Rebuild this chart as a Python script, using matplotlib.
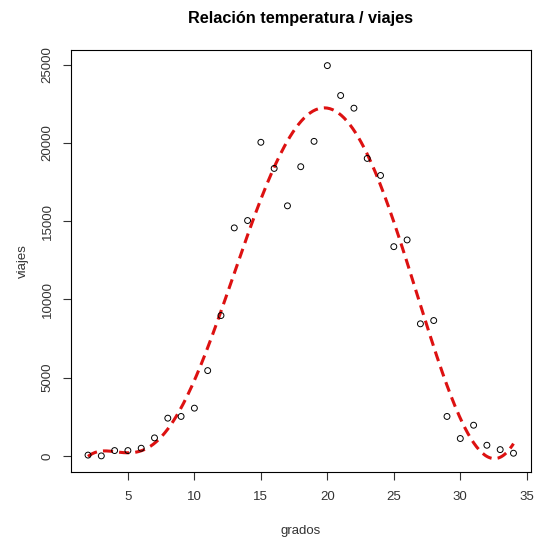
import numpy as np
import matplotlib
matplotlib.use("Agg")
import matplotlib.pyplot as plt

plt.rcParams['font.family'] = ['Liberation Sans', 'DejaVu Sans']

# datos
grados = list(range(2, 35))
viajes = [50, 0, 340, 340, 490, 1150, 2410, 2520, 3050, 5450, 8970,
          14570, 15040, 20040, 18370, 15980, 18480, 20100, 24940, 23030,
          22220, 19010, 17920, 13370, 13800, 8440, 8650, 2520, 1110, 1960,
          680, 400, 170]

x = np.array(grados, dtype=float)
y = np.array(viajes, dtype=float)

# ajuste polinomico de grado 6 (como lm(viajes ~ poly(grados, 6)))
coef = np.polyfit((x - 18) / 16, y, 6)
xs = np.linspace(x.min(), x.max(), 300)
ys = np.polyval(coef, (xs - 18) / 16)

fig = plt.figure(figsize=(5.35, 5.38), dpi=100)
ax = fig.add_axes([71/535, 1 - 471.5/538, 459.5/535, 421.5/538])

ax.scatter(x, y, s=18, facecolors='none', edgecolors='black', linewidths=0.7, zorder=3)
ax.plot(xs, ys, color='#dd1111', lw=2.2, linestyle=(0, (3.3, 2.0)), zorder=2)

ax.set_xlim(0.72, 35.28)
ax.set_ylim(-998, 25938)
ax.set_xticks([5, 10, 15, 20, 25, 30, 35])
ax.set_yticks([0, 5000, 10000, 15000, 20000, 25000])
ax.set_yticklabels(['0', '5000', '10000', '15000', '20000', '25000'], rotation=90, va='center')

for s in ax.spines.values():
    s.set_linewidth(0.8)
ax.tick_params(length=6, width=0.8, labelsize=9.5, colors='#333333', labelcolor='#333333', pad=8)
ax.tick_params(axis='y', pad=6.5)

ax.set_xlabel('grados', fontsize=9.5, color='#333333', labelpad=16)
ax.set_ylabel('viajes', fontsize=9.5, color='#333333', labelpad=9)
fig.text(300.5/535, 1 - 18/538, 'Relación temperatura / viajes', ha='center', va='center',
         fontsize=11.7, fontweight='bold')

fig.savefig('out.png', dpi=100)
